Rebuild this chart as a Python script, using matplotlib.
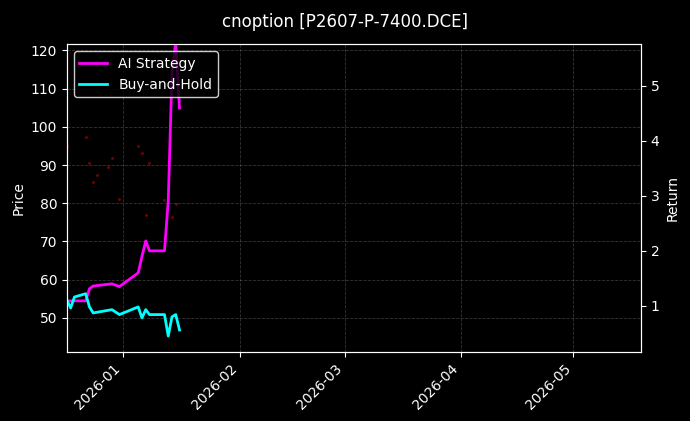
import matplotlib
matplotlib.use("Agg")
import matplotlib.pyplot as plt
import matplotlib.dates as mdates
import pandas as pd

plt.style.use("dark_background")

dates = pd.to_datetime(["2025-12-17","2025-12-18","2025-12-19","2025-12-22","2025-12-23","2025-12-24",
    "2025-12-29","2025-12-31","2026-01-05","2026-01-06","2026-01-07","2026-01-08",
    "2026-01-12","2026-01-13","2026-01-14","2026-01-15","2026-01-16"])
ai_ret = [1.09,1.09,1.09,1.09,1.31,1.36,1.40,1.35,1.60,1.90,2.18,2.00,2.00,2.90,5.24,5.80,4.60]
bh_ret = [1.10,0.96,1.16,1.22,0.98,0.87,0.93,0.84,0.98,0.78,0.93,0.84,0.84,0.45,0.80,0.84,0.56]

price_dates = pd.to_datetime(["2025-12-17","2025-12-22","2025-12-23","2025-12-24","2025-12-25","2025-12-28",
    "2025-12-29","2025-12-31","2026-01-05","2026-01-06","2026-01-07","2026-01-08","2026-01-12",
    "2026-01-14","2026-01-15"])
price = [95,97.3,90.5,85.5,87.4,89.5,91.8,81.1,95,93.1,76.9,90.5,80.8,76.4,79.8]

fig, ax = plt.subplots(figsize=(6.9, 4.21), dpi=100)
fig.subplots_adjust(left=0.097, right=0.929, top=0.895, bottom=0.164)
ax.scatter(price_dates, price, s=1.5, color="#8b0000", alpha=0.7, zorder=1)
ax.set_ylim(41.1, 121.6)
ax.set_ylabel("Price")
ax.grid(True, linestyle="--", color="gray", alpha=0.4, linewidth=0.6)

ax2 = ax.twinx()
ax2.plot(dates, ai_ret, color="#ff00ff", lw=2, label="AI Strategy")
ax2.plot(dates, bh_ret, color="#00ffff", lw=2, label="Buy-and-Hold")
ax2.set_ylim(0.16, 5.76)
ax2.set_ylabel("Return")
ax.set_xlim(pd.Timestamp("2025-12-17"), pd.Timestamp("2026-05-19"))
ax.xaxis.set_major_locator(mdates.MonthLocator())
ax.xaxis.set_major_formatter(mdates.DateFormatter("%Y-%m"))
for t in ax.get_xticklabels():
    t.set_rotation(45); t.set_ha("right")
ax2.legend(loc="upper left", facecolor="black", edgecolor="white")
fig.suptitle("cnoption [P2607-P-7400.DCE]", fontsize=12, y=0.97)
fig.savefig("out.png", dpi=100, facecolor="black")
